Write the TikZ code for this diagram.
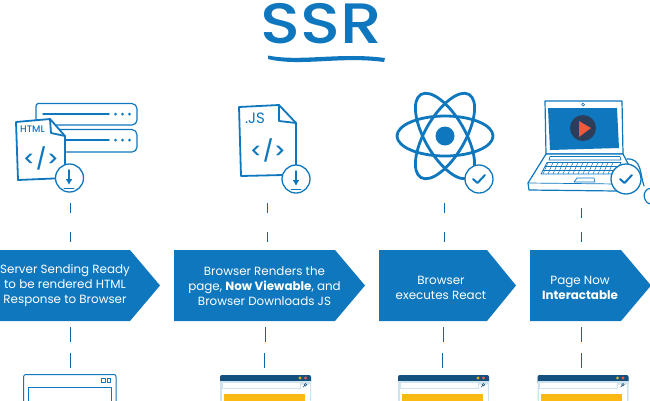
\documentclass[tikz,border=0pt]{standalone}
\usepackage{fontspec}
\setmainfont{Poppins}
\definecolor{bl}{HTML}{0F77BE}
\definecolor{navy}{HTML}{14507E}
\definecolor{lbl}{HTML}{CFE3EF}
\definecolor{yel}{HTML}{FDB913}
\definecolor{rd}{HTML}{EF5A3C}
\definecolor{dk}{HTML}{2C3E5A}
\tikzset{
 ln/.style={draw=bl,line width=1.2pt,line join=round,line cap=round},
 thick ln/.style={ln,line width=1.8pt},
 thin ln/.style={ln,line width=.7pt},
 conn/.style={draw=bl!85!black,line width=.8pt},
 chev/.style={fill=bl},
 lab/.style={text=white,align=center,font=\fontsize{11.9}{15}\selectfont,inner sep=0pt},
 badge/.style={circle,draw=bl,line width=1.3pt,fill=white,minimum size=28pt,inner sep=0pt},
 code/.style={text=bl,font=\fontsize{21}{21}\selectfont\fontspec{Poppins Medium},inner sep=0pt},
}
\newcommand{\tickmark}[2]{\draw[thick ln,line width=2pt] (#1-6,#2) -- (#1-1.5,#2+4) -- (#1+6,#2-4);}
\newcommand{\downmark}[2]{%
 \draw[ln,line width=1.8pt,-{Latex[length=6pt,width=7pt]}] (#1,#2-9) -- (#1,#2+6);
 \draw[thin ln,line width=1pt] (#1-5,#2+9) -- (#1+5,#2+9);}
\newcommand{\winbox}[1]{%
 \fill[lbl,rounded corners=2pt] (#1,375) rectangle (#1+91,402);
 \fill[white] (#1+1.5,382) rectangle (#1+89.5,402);
 \fill[navy,rounded corners=2pt] (#1,375) rectangle (#1+91,384);
 \fill[lbl] (#1,381) rectangle (#1+91,384);
 \fill[white,draw=lbl,line width=.5pt] (#1+2,382.5) rectangle (#1+80,388);
 \fill[yel] (#1+3.5,394) rectangle (#1+84.5,402);
 \fill[yel!80!olive] (#1+80,378) circle (1.6pt);
 \fill[rd] (#1+85.5,378) circle (1.6pt);
 \draw[navy,line width=.5pt] (#1+85.5,384.7) circle (1.3pt) (#1+84.5,385.7) -- (#1+83,387.2);}
\usetikzlibrary{arrows.meta}
\begin{document}
\begin{tikzpicture}[x=1pt,y=-1pt]
\useasboundingbox (0,0) rectangle (650,400);
\clip (0,0) rectangle (650,400);
% title
\node[text=bl,inner sep=0pt,xscale=1.16,transform shape,font=\fontsize{57}{57}\selectfont\fontspec{Poppins Medium}] (title) at (321.5,24) {SSR};
\fill[bl] (268,55.5) .. controls (300,62) and (340,52) .. (385,58) -- (384,62) .. controls (340,56) and (300,67) .. (268,59) -- cycle;
% server rows
\draw[ln] (38,103.5) -- (132,103.5) to[out=0,in=90] (137,109) -- (137,120) to[out=-90,in=0] (132,125) -- (40,125) to[out=180,in=-90] (36,120) -- (36,107) to[out=90,in=180] (38,103.5) -- cycle;
\draw[ln] (38,129.5) -- (132,129.5) to[out=0,in=90] (137,135) -- (137,147) to[out=-90,in=0] (132,152) -- (40,152) to[out=180,in=-90] (36,147) -- (36,133) to[out=90,in=180] (38,129.5) -- cycle;
\draw[ln,line width=1.5pt] (43,114) -- (109,114) (66,140) -- (109,140);
\foreach \yy in {114,140}\foreach \xx in {115.5,122.5,129.5}{\fill[bl] (\xx,\yy) circle (1.5pt);}
% HTML document
\draw[thick ln,fill=white] (16,122) -- (50,119) -- (65,136) -- (65,178) -- (18,180) -- cycle;
\draw[thick ln] (50,119) -- (51,133) -- (65,136);
\node[text=bl,inner sep=0pt,font=\fontsize{9.5}{9.5}\selectfont\fontspec{Poppins Medium}] (htmlt) at (32.5,129) {HTML};
\node[code] (htmlc) at (41,158) {</>};
\node[badge] (b1) at (69.5,178) {};
\downmark{69}{179}
% JS document
\draw[thick ln,fill=white] (239,107) -- (279,105) -- (296,123) -- (296,166) -- (283,175) -- (241,176) -- cycle;
\draw[thick ln] (279,105) -- (279,121) -- (296,123);
\node[text=bl,inner sep=0pt,font=\fontsize{15}{15}\selectfont] (jst) at (255,118) {.JS};
\node[code] (jsc) at (268,150) {</>};
\node[badge] (b2) at (296,179) {};
\downmark{296}{180}
% react atom
\begin{scope}[shift={(445,136)}]
\foreach \rr in {0,60,120}{\draw[draw=bl,line width=2.8pt,rotate=\rr] (0,0) ellipse (48pt and 20pt);}
\fill[bl] (0,0) circle (9.5pt);
\end{scope}
\node[badge] (b3) at (479,179) {};
\tickmark{479}{179}
% laptop
\draw[ln,fill=white] (546,154) -- (545,101) -- (622,101) -- (623,154) -- cycle;
\fill[bl] (548,108) -- (617,108) -- (619,148) -- (550,150) -- cycle;
\draw[thin ln] (583,104.5) circle (1.5pt);
\fill[dk] (583,128) circle (13pt);
\fill[rd] (579,121) -- (591,128) -- (579,137) -- cycle;
\draw[ln,fill=white] (546,154) -- (623,154) -- (637,181) -- (617,191) -- (529,190) -- (528,183) -- cycle;
\draw[thin ln] (528,183) -- (618,184);
\draw[thin ln] (550,156.5) -- (620,156.5) -- (621,160) -- (549,160) -- cycle;
\draw[thin ln] (547,162.5) -- (621,162.5) -- (615,174) -- (541,174) -- cycle;
\draw[thin ln] (545,166) -- (619,166) (543,170) -- (617,170);
\foreach \ii in {0,...,13}{\draw[thin ln,line width=.5pt] ({548+5*\ii},162.5) -- ({543+5*\ii},174);}
\draw[thin ln] (577,178) -- (594,178) -- (595,182) -- (574,182) -- cycle;
\draw[ln] (627,159) .. controls (642,158) and (640,175) .. (644,186);
\draw[ln] (651,188) .. controls (640,190) and (644,204) .. (651,204);
\node[badge,minimum size=30pt] (b4) at (626,179) {};
\tickmark{626}{179}
% connector ends
\coordinate (a1) at (70,203); \coordinate (a2) at (70,213); \coordinate (a3) at (70,232); \coordinate (a4) at (70,242);
\coordinate (a5) at (70,327); \coordinate (a6) at (70,342); \coordinate (a7) at (70.5,353); \coordinate (a8) at (70.5,368);
\coordinate (c1) at (267,203); \coordinate (c2) at (267,213); \coordinate (c3) at (267,232); \coordinate (c4) at (267,242);
\coordinate (c5) at (265,327); \coordinate (c6) at (265,342); \coordinate (c7) at (264.5,353); \coordinate (c8) at (264.5,368);
\coordinate (e1) at (444,203); \coordinate (e2) at (444,213); \coordinate (e3) at (444,232); \coordinate (e4) at (444,242);
\coordinate (e5) at (443,327); \coordinate (e6) at (443,342); \coordinate (e7) at (442.5,353); \coordinate (e8) at (442.5,368);
\coordinate (g1) at (581,208); \coordinate (g2) at (581,218); \coordinate (g3) at (581,232); \coordinate (g4) at (581,242);
\coordinate (g5) at (581,327); \coordinate (g6) at (581,342); \coordinate (g7) at (581,353); \coordinate (g8) at (581,368);
\foreach \cc in {a,c,e,g}{
 \draw[conn] (\cc1) -- (\cc2);
 \draw[conn] (\cc3) -- (\cc4);
 \draw[conn] (\cc5) -- (\cc6);
 \draw[conn] (\cc7) -- (\cc8);
}
% chevrons
\fill[chev] (-2,250) -- (130,250) -- (160,285.5) -- (130,321) -- (-2,321) -- cycle;
\fill[chev] (174,250) -- (335,250) -- (365,285.5) -- (335,321) -- (174,321) -- cycle;
\fill[chev] (379,250) -- (487,250) -- (516,285.5) -- (487,321) -- (379,321) -- cycle;
\fill[chev] (530,250) -- (621,250) -- (651,285.5) -- (621,321) -- (530,321) -- cycle;
\node[lab] (s1) at (65,286) {Server Sending Ready\\to be rendered HTML\\Response to Browser};
\node[lab] (s2) at (264.5,286) {Browser Renders the\\page, \textbf{Now Viewable}, and\\Browser Downloads JS};
\node[lab] (s3) at (441,288) {Browser\\executes React};
\node[lab] (s4) at (580,288) {Page Now\\\textbf{Interactable}};
% bottom windows
\draw[thin ln,line width=1pt,rounded corners=2pt] (23.7,402) -- (23.7,374.5) -- (116,374.5) -- (116,402);
\draw[thin ln,line width=1pt] (28.5,402) -- (28.5,387.5) -- (111.5,387.5) -- (111.5,402);
\draw[thin ln,line width=.6pt] (101.5,378.5) rectangle (105,382) (107,378.5) rectangle (110.5,382);
\winbox{220}
\winbox{398}
\winbox{537.5}
\end{tikzpicture}
\end{document}
